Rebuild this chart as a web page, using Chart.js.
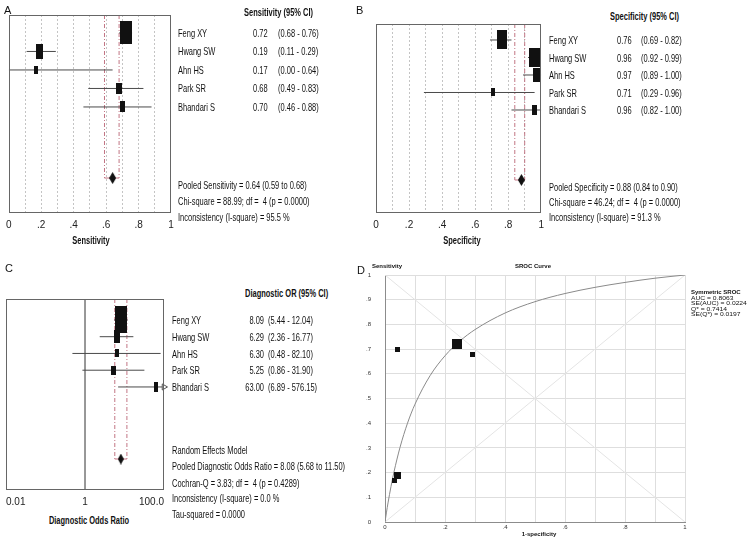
<!DOCTYPE html>
<html>
<head>
<meta charset="utf-8">
<script src="https://cdn.jsdelivr.net/npm/chart.js@4.4.1/dist/chart.umd.min.js"></script>
<style>
  body { margin: 0; width: 750px; height: 540px; background: #fff; position: relative; overflow: hidden; }
  canvas { position: absolute; }
  .t { position: absolute; font: 11px "Liberation Sans", Arial, sans-serif; line-height: 14px; white-space: pre; color: #111;
       transform: scaleX(.68); transform-origin: 0 50%; }
  .b { font-weight: bold; }
  .c { width: 200px; text-align: center; transform-origin: 50% 50%; }
  .r { width: 100px; text-align: right; transform-origin: 100% 50%; }
  .p { transform: none; font-size: 11px; }
  .s { transform: scaleX(1.12); font-size: 6px; line-height: 6px; }
  .sb { transform: none; font-size: 6px; line-height: 6px; font-weight: bold; }
</style>
</head>
<body>
<canvas id="cA" width="180" height="250" style="left:0;top:0"></canvas>
<canvas id="cB" width="185" height="250" style="left:365px;top:0"></canvas>
<canvas id="cC" width="175" height="240" style="left:0;top:270px"></canvas>
<canvas id="cD" width="395" height="285" style="left:355px;top:255px"></canvas>
<script>
// study data
const studies = ['Feng XY', 'Hwang SW', 'Ahn HS', 'Park SR', 'Bhandari S'];
const sens = [0.72, 0.19, 0.17, 0.68, 0.70];
const sensLo = [0.68, 0.11, 0.00, 0.49, 0.46];
const sensHi = [0.76, 0.29, 0.64, 0.83, 0.88];
const spec = [0.76, 0.96, 0.97, 0.71, 0.96];
const specLo = [0.69, 0.92, 0.89, 0.29, 0.82];
const specHi = [0.82, 0.99, 1.00, 0.96, 1.00];
const dor = [8.09, 6.29, 6.30, 5.25, 63.00];
const dorLo = [5.44, 2.36, 0.48, 0.86, 6.89];
const dorHi = [12.04, 16.77, 82.10, 31.90, 576.15];
const pooledSens = [0.64, 0.59, 0.68];
const pooledSpec = [0.88, 0.84, 0.90];
const pooledDor = [8.08, 5.68, 11.50];
// SROC curve
const srocFpr = [0, 0.005, 0.01, 0.02, 0.03, 0.05, 0.075, 0.1, 0.15, 0.2, 0.25, 0.3, 0.4, 0.5, 0.6, 0.7, 0.8, 0.9, 1];
const srocSens = [0, 0.04, 0.077, 0.144, 0.203, 0.302, 0.400, 0.477, 0.592, 0.673, 0.733, 0.779, 0.846, 0.892, 0.925, 0.950, 0.970, 0.987, 1];
// tick labels
const forestTicks = ['0', '.2', '.4', '.6', '.8', '1'];
const dorTicks = [0.01, 1, 100];
const dorTickLabels = ['0.01', '1', '100.0'];
const srocXTicks = ['0', '.2', '.4', '.6', '.8', '1'];
const srocYTicks = ['0', '.1', '.2', '.3', '.4', '.5', '.6', '.7', '.8', '.9', '1'];

// marker sizes (style only)
const boxA = [[12, 23], [7, 15], [4, 8], [6, 11], [5, 11]];
const boxB = [[10, 19], [11, 19], [7, 14], [4, 8], [5, 10]];
const boxC = [[12, 27], [6, 13], [4, 8], [5, 9], [4, 10]];
const boxD = [10, 7, 5, 5, 5];

const tickFont = { family: '"Liberation Sans Narrow", "Liberation Sans", Arial, sans-serif', size: 10 };
const pooledColor = '#c27584';

function rectImg(w, h) {
  const c = document.createElement('canvas');
  c.width = w; c.height = h;
  const g = c.getContext('2d');
  g.fillStyle = '#111';
  g.fillRect(0, 0, w, h);
  return c;
}

function diamondImg(w, h) {
  const c = document.createElement('canvas');
  c.width = w; c.height = h;
  const g = c.getContext('2d');
  g.fillStyle = '#111';
  g.beginPath();
  g.moveTo(w / 2, 0); g.lineTo(w, h / 2); g.lineTo(w / 2, h); g.lineTo(0, h / 2);
  g.closePath(); g.fill();
  return c;
}

const frame = {
  id: 'frame',
  afterDraw(chart) {
    const a = chart.chartArea, ctx = chart.ctx;
    ctx.save();
    ctx.strokeStyle = '#666';
    ctx.lineWidth = 1;
    ctx.strokeRect(Math.round(a.left) + 0.5, Math.round(a.top) + 0.5, Math.round(a.right - a.left) - 1, Math.round(a.bottom - a.top) - 1);
    ctx.restore();
  }
};

function seg(pts, color, dash, order) {
  return { data: pts, showLine: true, borderColor: color, borderWidth: 1, borderDash: dash || [], pointRadius: 0, pointHoverRadius: 0, order: order };
}

function forest(id, f) {
  const rows = f.est.map((v, i) => i + 1);
  const ds = [];
  ds.push({ data: rows.map((r, i) => ({ x: f.est[i], y: r })), pointStyle: f.boxes.map(b => rectImg(b[0], b[1])),
            pointRadius: 3, clip: false, order: 0 });
  ds.push({ data: [{ x: f.pooled[0], y: f.pooledRow }], pointStyle: diamondImg(f.diamond[0], f.diamond[1]),
            pointRadius: 3, clip: false, order: 0 });
  const over = rows.filter((r, i) => f.hi[i] > f.x.max);
  if (over.length) {
    ds.push({ data: over.map(r => ({ x: f.x.max, y: r })), pointStyle: 'triangle', rotation: 90, pointRadius: 3.5,
              backgroundColor: '#fff', borderColor: '#555', borderWidth: 1, clip: false, order: 0 });
  }
  rows.forEach((r, i) => ds.push(seg([{ x: f.lo[i], y: r }, { x: f.hi[i], y: r }], '#4a4a4a', null, 1)));
  ds.push(seg([{ x: f.pooled[1], y: f.y.min }, { x: f.pooled[1], y: f.pooledRow }], pooledColor, [4, 2, 1, 2], 2));
  ds.push(seg([{ x: f.pooled[2], y: f.y.min }, { x: f.pooled[2], y: f.pooledRow }], pooledColor, [4, 2, 1, 2], 2));
  ds.push(seg([{ x: f.pooled[1], y: f.pooledRow }, { x: f.pooled[2], y: f.pooledRow }], pooledColor, null, 2));
  if (f.refLine !== undefined) {
    ds.push(seg([{ x: f.refLine, y: f.y.min }, { x: f.refLine, y: f.y.max }], '#8a8a8a', null, 3));
  }
  new Chart(document.getElementById(id), {
    type: 'scatter',
    data: { datasets: ds },
    options: {
      responsive: false, animation: false, events: [],
      layout: { padding: f.padding },
      plugins: { legend: { display: false }, tooltip: { enabled: false } },
      scales: {
        x: f.x,
        y: { type: 'linear', min: f.y.min, max: f.y.max, reverse: true, display: false }
      }
    },
    plugins: [frame]
  });
}

function propScale(height) {
  return {
    type: 'linear', min: 0, max: 1,
    afterFit: s => { s.height = height; },
    border: { display: false, dash: [2, 2] },
    grid: { color: c => (c.tick && (c.tick.value <= 0.001 || c.tick.value >= 0.999)) ? 'rgba(0,0,0,0)' : '#c4c4c4', drawTicks: false },
    ticks: { stepSize: 0.1, autoSkip: false, maxRotation: 0, padding: 6, color: '#222', font: tickFont,
             callback: v => { const k = Math.round(v * 10); return k % 2 ? '' : forestTicks[k / 2]; } }
  };
}

forest('cA', {
  est: sens, lo: sensLo, hi: sensHi, pooled: pooledSens, boxes: boxA, diamond: [7, 12],
  y: { min: 0.03, max: 10.73 }, pooledRow: 8.84,
  padding: { left: 6, right: 9, top: 15, bottom: 0 },
  x: propScale(37)
});

forest('cB', {
  est: spec, lo: specLo, hi: specHi, pooled: pooledSpec, boxes: boxB, diamond: [7, 12],
  y: { min: 0.086, max: 10.886 }, pooledRow: 9.0,
  padding: { left: 11, right: 8, top: 24, bottom: 0 },
  x: propScale(37)
});

forest('cC', {
  est: dor, lo: dorLo, hi: dorHi, pooled: pooledDor, boxes: boxC, diamond: [6, 11],
  y: { min: -0.25, max: 11.15 }, pooledRow: 9.3, refLine: 1,
  padding: { left: 6, right: 11, top: 29, bottom: 0 },
  x: {
    type: 'logarithmic', min: 0.01, max: 100,
    afterFit: s => { s.height = 20; },
    afterBuildTicks: s => { s.ticks = dorTicks.map(v => ({ value: v })); },
    border: { display: false },
    grid: { display: false, drawTicks: false },
    ticks: { align: 'inner', autoSkip: false, maxRotation: 0, padding: 6, color: '#222', font: tickFont,
             callback: (v, i) => dorTickLabels[i] }
  }
});

// panel D: SROC
const smallFont = { family: '"Liberation Sans", Arial, sans-serif', size: 6 };
new Chart(document.getElementById('cD'), {
  type: 'scatter',
  data: {
    datasets: [
      { data: spec.map((s, i) => ({ x: 1 - s, y: sens[i] })), pointStyle: boxD.map(w => rectImg(w, w)),
        pointRadius: 3, clip: false, order: 0 },
      { data: srocFpr.map((v, i) => ({ x: v, y: srocSens[i] })), showLine: true, borderColor: '#8a8a8a', borderWidth: 1,
        cubicInterpolationMode: 'monotone', pointRadius: 0, order: 1 },
      seg([{ x: 0, y: 0 }, { x: 1, y: 1 }], '#e4e4e4', null, 2),
      seg([{ x: 0, y: 1 }, { x: 1, y: 0 }], '#e4e4e4', null, 2)
    ]
  },
  options: {
    responsive: false, animation: false, events: [],
    layout: { padding: { left: 0, right: 65, top: 20, bottom: 0 } },
    plugins: { legend: { display: false }, tooltip: { enabled: false } },
    scales: {
      x: {
        type: 'linear', min: 0, max: 1,
        afterFit: s => { s.height = 18; },
        border: { color: '#8c8c8c' },
        grid: { color: '#dedede', drawTicks: false },
        ticks: { stepSize: 0.1, autoSkip: false, maxRotation: 0, padding: 2, color: '#333', font: smallFont,
                 callback: v => { const k = Math.round(v * 10); return k % 2 ? '' : srocXTicks[k / 2]; } }
      },
      y: {
        type: 'linear', min: 0, max: 1,
        afterFit: s => { s.width = 30; },
        border: { color: '#8c8c8c' },
        grid: { color: '#dedede', drawTicks: false },
        ticks: { stepSize: 0.1, autoSkip: false, padding: 14, color: '#333', font: smallFont,
                 callback: v => srocYTicks[Math.round(v * 10)] }
      }
    }
  }
});

// text
function txt(x, y, s, cls) {
  const d = document.createElement('div');
  d.className = 't ' + (cls || '');
  d.textContent = s;
  document.body.appendChild(d);
  let left = x;
  if (d.classList.contains('c')) left = x - 100;
  if (d.classList.contains('r')) left = x - 100;
  d.style.left = left + 'px';
  d.style.top = (y - d.offsetHeight / 2) + 'px';
}

const f2 = v => v.toFixed(2);

txt(4, 10, 'A', 'p');
txt(356, 10, 'B', 'p');
txt(5, 268, 'C', 'p');
txt(357, 270, 'D', 'p');

txt(244, 12, 'Sensitivity (95% CI)', 'b');
studies.forEach((s, i) => {
  const y = 33 + 18.4 * i;
  txt(178, y, s);
  txt(253, y, f2(sens[i]));
  txt(278, y, '(' + f2(sensLo[i]) + ' - ' + f2(sensHi[i]) + ')');
});
txt(178, 185, 'Pooled Sensitivity = 0.64 (0.59 to 0.68)');
txt(178, 201, 'Chi-square = 88.99; df =  4 (p = 0.0000)');
txt(178, 217, 'Inconsistency (I-square) = 95.5 %');
txt(91, 240, 'Sensitivity', 'b c');

txt(610, 16, 'Specificity (95% CI)', 'b');
studies.forEach((s, i) => {
  const y = 40 + 17.5 * i;
  txt(549, y, s);
  txt(617, y, f2(spec[i]));
  txt(641, y, '(' + f2(specLo[i]) + ' - ' + f2(specHi[i]) + ')');
});
txt(549, 187, 'Pooled Specificity = 0.88 (0.84 to 0.90)');
txt(549, 202, 'Chi-square = 46.24; df =  4 (p = 0.0000)');
txt(549, 217, 'Inconsistency (I-square) = 91.3 %');
txt(462, 240, 'Specificity', 'b c');

txt(245, 293, 'Diagnostic OR (95% CI)', 'b');
studies.forEach((s, i) => {
  const y = 320 + 16.75 * i;
  txt(172, y, s);
  txt(264, y, f2(dor[i]), 'r');
  txt(268, y, '(' + f2(dorLo[i]) + ' - ' + f2(dorHi[i]) + ')');
});
txt(172, 450, 'Random Effects Model');
txt(172, 466, 'Pooled Diagnostic Odds Ratio = 8.08 (5.68 to 11.50)');
txt(172, 483, 'Cochran-Q = 3.83; df =  4 (p = 0.4289)');
txt(172, 498, 'Inconsistency (I-square) = 0.0 %');
txt(172, 514, 'Tau-squared = 0.0000');
txt(89, 520, 'Diagnostic Odds Ratio', 'b c');

txt(372, 266, 'Sensitivity', 'sb');
txt(533, 266, 'SROC Curve', 'sb c');
txt(539, 534, '1-specificity', 'sb c');
txt(691, 292, 'Symmetric SROC', 'sb');
txt(691, 297.5, 'AUC = 0.8063', 's');
txt(691, 303, 'SE(AUC) = 0.0224', 's');
txt(691, 308.5, 'Q* = 0.7414', 's');
txt(691, 314, 'SE(Q*) = 0.0197', 's');
</script>
</body>
</html>
